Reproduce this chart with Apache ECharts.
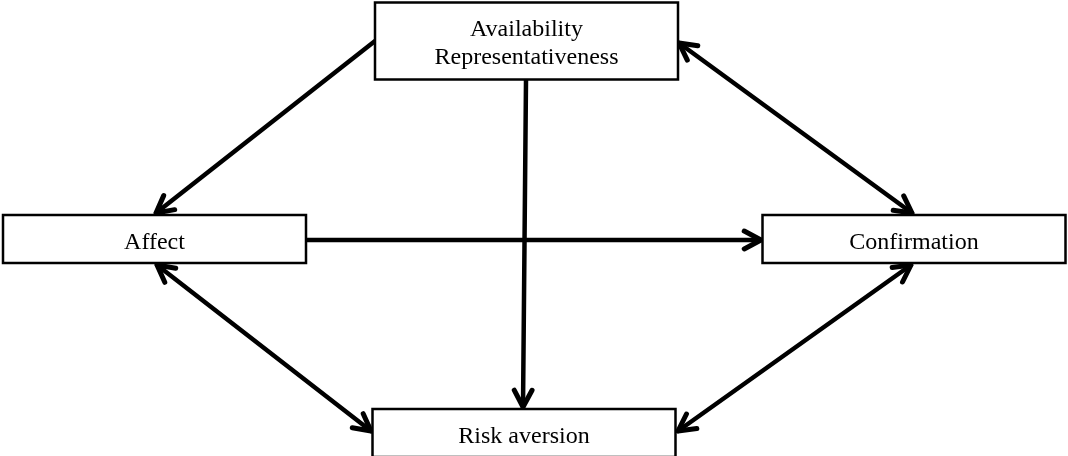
<!DOCTYPE html>
<html>
<head>
<meta charset="utf-8">
<script src="https://cdn.jsdelivr.net/npm/echarts@6/dist/echarts.min.js"></script>
<style>
  html, body { margin: 0; padding: 0; background: #fff; }
  #main { width: 1068px; height: 456px; }
</style>
</head>
<body>
<div id="main"></div>
<script>
// boxes of the diagram (centre in page units)
var boxLabels = ['Availability\nRepresentativeness', 'Affect', 'Confirmation', 'Risk aversion'];
var boxX = [526.5, 154.5, 914, 524];
var boxY = [41, 239, 239, 433];
var boxH = [77, 48, 48, 48];

// arrows: start / end points, and whether they point both ways
var arrowFromX = [375, 526, 307, 679, 157, 911];
var arrowFromY = [41, 80, 240, 43, 265, 265];
var arrowToX = [156, 523, 761, 912, 371, 678];
var arrowToY = [213, 407, 240, 213, 431, 431];
var arrowBoth = [false, false, false, true, true, true];

var chart = echarts.init(document.getElementById('main'));

var boxData = boxLabels.map(function (t, i) {
  return [boxX[i], boxY[i], boxH[i], t];
});
var arrowData = arrowFromX.map(function (v, i) {
  return [v, arrowFromY[i], arrowToX[i], arrowToY[i], arrowBoth[i] ? 1 : 0];
});

function head(tip, from) {
  var dx = from[0] - tip[0], dy = from[1] - tip[1];
  var len = Math.sqrt(dx * dx + dy * dy);
  var ux = dx / len, uy = dy / len;
  var a = 28 * Math.PI / 180, L = 19;
  var c = Math.cos(a), s = Math.sin(a);
  var p1 = [tip[0] + L * (ux * c - uy * s), tip[1] + L * (ux * s + uy * c)];
  var p2 = [tip[0] + L * (ux * c + uy * s), tip[1] + L * (-ux * s + uy * c)];
  return {
    type: 'polyline',
    shape: { points: [p1, tip, p2] },
    style: { stroke: '#000', lineWidth: 5, fill: null, lineCap: 'round', lineJoin: 'round' }
  };
}

var option = {
  backgroundColor: '#fff',
  animation: false,
  grid: { left: 0, right: 0, top: 0, bottom: 0 },
  xAxis: { type: 'value', min: 0, max: 1068, show: false },
  yAxis: { type: 'value', min: 0, max: 456, inverse: true, show: false },
  series: [
    {
      type: 'custom',
      z: 2,
      data: boxData,
      renderItem: function (params, api) {
        var c = api.coord([api.value(0), api.value(1)]);
        var h = api.value(2);
        var w = api.size([303, 0])[0];
        var hp = api.size([0, h])[1];
        return {
          type: 'group',
          children: [
            {
              type: 'rect',
              shape: { x: c[0] - w / 2, y: c[1] - hp / 2, width: w, height: hp },
              style: { fill: '#fff', stroke: '#000', lineWidth: 2.5 }
            },
            {
              type: 'text',
              style: {
                x: c[0], y: c[1] + (h > 60 ? 3 : 4),
                text: boxData[params.dataIndex][3],
                align: 'center', verticalAlign: 'middle',
                fontFamily: 'Liberation Serif', fontSize: 24, lineHeight: 28,
                fill: '#000'
              }
            }
          ]
        };
      }
    },
    {
      type: 'custom',
      z: 1,
      data: arrowData,
      renderItem: function (params, api) {
        var a = api.coord([api.value(0), api.value(1)]);
        var b = api.coord([api.value(2), api.value(3)]);
        var kids = [
          {
            type: 'line',
            shape: { x1: a[0], y1: a[1], x2: b[0], y2: b[1] },
            style: { stroke: '#000', lineWidth: 4.5, lineCap: 'round' }
          },
          head(b, a)
        ];
        if (api.value(4)) kids.push(head(a, b));
        return { type: 'group', children: kids };
      }
    }
  ]
};

chart.setOption(option);
</script>
</body>
</html>
